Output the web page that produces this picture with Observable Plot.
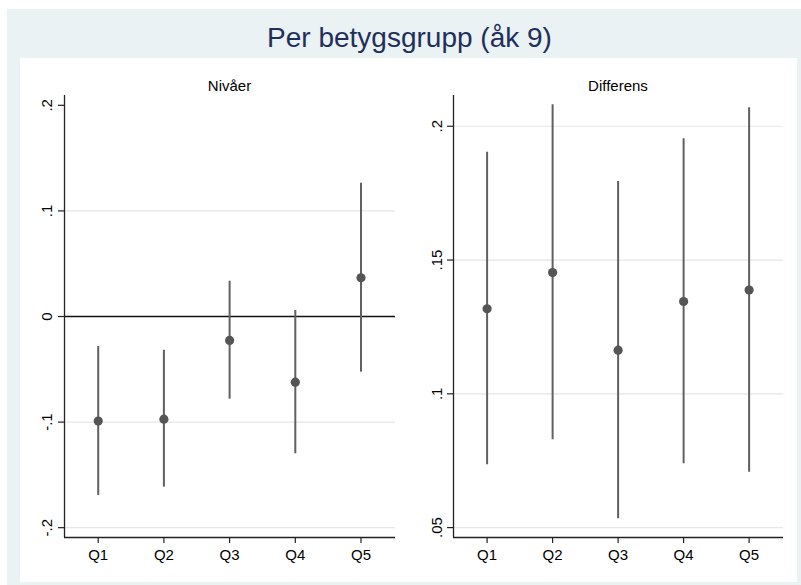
<!DOCTYPE html>
<html>
<head>
<meta charset="utf-8">
<script src="https://cdn.jsdelivr.net/npm/d3@7"></script>
<script src="https://cdn.jsdelivr.net/npm/@observablehq/plot@0.6"></script>
<style>
  html, body { margin: 0; padding: 0; background: #ffffff; }
  #wrap { position: relative; width: 801px; height: 585px; overflow: hidden; font-family: "Liberation Sans", Arial, sans-serif; }
  #outer { position: absolute; left: 7px; top: 9px; width: 794px; height: 576px; background: #eaf2f3; }
  #inner { position: absolute; left: 20px; top: 58px; width: 777px; height: 524px; background: #ffffff; }
  #title { position: absolute; left: 20px; width: 779px; top: 24px; text-align: center; font-size: 28px; line-height: 28px; color: #1f2f5c; white-space: nowrap; }
  .ptitle { position: absolute; top: 78px; font-size: 15px; line-height: 15px; color: #000; text-align: center; white-space: nowrap; }
  .panel { position: absolute; top: 58px; }
</style>
</head>
<body>
<div id="wrap">
  <div id="outer"></div>
  <div id="inner"></div>
  <div id="title">Per betygsgrupp (åk 9)</div>
  <div class="ptitle" style="left:64px;width:331px;">Nivåer</div>
  <div class="ptitle" style="left:453px;width:330px;">Differens</div>
  <div class="panel" id="left" style="left:20px;"></div>
  <div class="panel" id="right" style="left:405px;"></div>
</div>
<script>
// ---- data ----
const categories = ["Q1", "Q2", "Q3", "Q4", "Q5"];

const nivaEst = [-0.0990, -0.0972, -0.0227, -0.0622, 0.0366];
const nivaLo  = [-0.1695, -0.1616, -0.0783, -0.1300, -0.0527];
const nivaHi  = [-0.0284, -0.0320, 0.0334, 0.0057, 0.1262];

const diffEst = [0.1318, 0.1453, 0.1163, 0.1345, 0.1388];
const diffLo  = [0.0735, 0.0828, 0.0533, 0.0739, 0.0707];
const diffHi  = [0.1903, 0.2080, 0.1794, 0.1953, 0.2069];

const nivaTicks = [0.2, 0.1, 0, -0.1, -0.2];
const nivaTickLabels = [".2", ".1", "0", "-.1", "-.2"];
const nivaGrid = [0.1, -0.1, -0.2];

const diffTicks = [0.2, 0.15, 0.1, 0.05];
const diffTickLabels = [".2", ".15", ".1", ".05"];
const diffGrid = [0.2, 0.15, 0.1, 0.05];

// ---- build ----
function rows(est, lo, hi) {
  return categories.map((c, i) => ({pos: i + 1, cat: c, est: est[i], lo: lo[i], hi: hi[i]}));
}

const xDomain = [0.487, 5.525];
const pointColor = "#555555";
const lineColor = "#606060";

function panel({data, yDomain, ticks, tickLabels, grid, zero, width, marginLeft, marginRight, labelDx}) {
  const tickRows = ticks.map((t, i) => ({t, label: tickLabels[i]}));
  const marks = [
    Plot.ruleY(grid, {stroke: "#e6e6e6", strokeWidth: 1.2}),
  ];
  if (zero) marks.push(Plot.ruleY([0], {stroke: "#111", strokeWidth: 1.5}));
  marks.push(
    Plot.ruleX(data, {x: "pos", y1: "lo", y2: "hi", stroke: lineColor, strokeWidth: 2}),
    Plot.dot(data, {x: "pos", y: "est", r: 4.6, fill: pointColor, stroke: "none"}),
    Plot.ruleX([xDomain[0]], {stroke: "#222", strokeWidth: 1.3}),
    Plot.ruleY([yDomain[0]], {stroke: "#222", strokeWidth: 1.3}),
    Plot.axisY({ticks, tickSize: 6, tickFormat: () => "", label: null, stroke: "#222", strokeWidth: 1.2}),
    Plot.text(tickRows, {y: "t", text: "label", frameAnchor: "left", dx: labelDx, rotate: -90,
      textAnchor: "middle", lineAnchor: "middle", fill: "#000", fontSize: 15}),
    Plot.axisX({ticks: categories.map((c, i) => i + 1), tickFormat: (d) => categories[d - 1],
      label: null, tickSize: 6, tickPadding: 6, fontSize: 15, stroke: "#222", strokeWidth: 1.2, fill: "#000"})
  );
  return Plot.plot({
    width, height: 524,
    marginLeft, marginRight, marginTop: 37, marginBottom: 45,
    style: {fontFamily: "'Liberation Sans', Arial, sans-serif", fontSize: "15px", background: "transparent", color: "#000"},
    x: {type: "linear", domain: xDomain, axis: null, label: null},
    y: {domain: yDomain, axis: null, label: null},
    marks
  });
}

document.getElementById("left").appendChild(panel({
  data: rows(nivaEst, nivaLo, nivaHi),
  yDomain: [-0.2093, 0.2093],
  ticks: nivaTicks, tickLabels: nivaTickLabels, grid: nivaGrid, zero: true,
  width: 385, marginLeft: 44, marginRight: 10, labelDx: -17.5
}));

document.getElementById("right").appendChild(panel({
  data: rows(diffEst, diffLo, diffHi),
  yDomain: [0.0463, 0.2115],
  ticks: diffTicks, tickLabels: diffTickLabels, grid: diffGrid, zero: false,
  width: 392, marginLeft: 48, marginRight: 14, labelDx: -16.6
}));
</script>
</body>
</html>
